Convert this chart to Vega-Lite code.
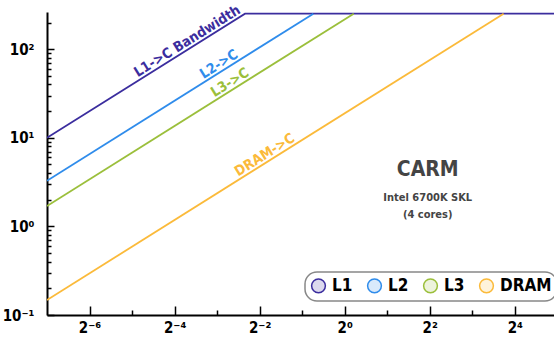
{
  "$schema": "https://vega.github.io/schema/vega-lite/v6.json",
  "autosize": {"type": "none"},
  "padding": {"left": 47, "top": 12, "right": 0, "bottom": 23},
  "width": 507,
  "height": 303,
  "datasets": {
    "lines": [
      {"s": "L1", "x": 0.0078125, "y": 10},
      {"s": "L1", "x": 0.197, "y": 252},
      {"s": "L1", "x": 30.3, "y": 252},
      {"s": "L2", "x": 0.0078125, "y": 3.28},
      {"s": "L2", "x": 0.6, "y": 252},
      {"s": "L3", "x": 0.0078125, "y": 1.70},
      {"s": "L3", "x": 1.158, "y": 252},
      {"s": "DRAM", "x": 0.0078125, "y": 0.1477},
      {"s": "DRAM", "x": 13.33, "y": 252}
    ],
    "labels": [
      {"s": "L1", "t": "L1->C Bandwidth", "x": 0.0819, "y": 104.8},
      {"s": "L2", "t": "L2->C", "x": 0.137, "y": 57.5},
      {"s": "L3", "t": "L3->C", "x": 0.164, "y": 35.7},
      {"s": "DRAM", "t": "DRAM->C", "x": 0.2888, "y": 5.46}
    ],
    "notes": [
      {"t": "CARM", "k": "title", "x": 3.87, "y": 4.32},
      {"t": "Intel 6700K SKL", "k": "sub", "x": 3.87, "y": 2.11},
      {"t": "(4 cores)", "k": "sub", "x": 3.87, "y": 1.36}
    ]
  },
  "layer": [
    {
      "data": {"name": "lines"},
      "mark": {"type": "line", "strokeWidth": 1.8, "clip": true},
      "encoding": {
        "x": {
          "field": "x", "type": "quantitative",
          "scale": {"type": "log", "base": 2, "domain": [0.0078125, 30.3], "nice": false},
          "axis": {
            "orient": "bottom",
            "title": null,
            "grid": false,
            "values": [0.015625, 0.03125, 0.0625, 0.125, 0.25, 0.5, 1, 2, 4, 8, 16],
            "labelExpr": "datum.value == 0.015625 ? '2⁻⁶' : datum.value == 0.0625 ? '2⁻⁴' : datum.value == 0.25 ? '2⁻²' : datum.value == 1 ? '2⁰' : datum.value == 4 ? '2²' : datum.value == 16 ? '2⁴' : ''",
            "tickSize": {"condition": {"test": "indexof([0.015625, 0.0625, 0.25, 1, 4, 16], datum.value) >= 0", "value": -9}, "value": -5},
            "labelPadding": 14,
            "labelFlush": false,
            "labelOverlap": false
          }
        },
        "y": {
          "field": "y", "type": "quantitative",
          "scale": {"type": "log", "base": 10, "domain": [0.1, 263], "nice": false},
          "axis": {
            "orient": "left",
            "title": null,
            "grid": false,
            "values": [0.1, 0.2, 0.3, 0.4, 0.5, 0.6, 0.7, 0.8, 0.9, 1, 2, 3, 4, 5, 6, 7, 8, 9, 10, 20, 30, 40, 50, 60, 70, 80, 90, 100, 200],
            "labelExpr": "datum.value == 0.1 ? '10⁻¹' : datum.value == 1 ? '10⁰' : datum.value == 10 ? '10¹' : datum.value == 100 ? '10²' : ''",
            "tickSize": {"condition": {"test": "indexof([0.1, 1, 10, 100], datum.value) >= 0", "value": -7}, "value": -4},
            "labelPadding": 20,
            "labelFlush": false,
            "labelOverlap": false
          }
        },
        "color": {
          "field": "s", "type": "nominal",
          "scale": {"domain": ["L1", "L2", "L3", "DRAM"], "range": ["#3B2D9E", "#2F8CEB", "#9BBF3B", "#FBBA3A"]},
          "legend": {
            "title": null,
            "orient": "none",
            "legendX": 258,
            "legendY": 260,
            "direction": "horizontal",
            "symbolType": "circle",
            "symbolSize": 190,
            "symbolStrokeWidth": 1.5,
            "labelFontSize": 17,
            "labelFontWeight": "bold",
            "labelColor": "black",
            "labelOffset": 5,
            "columnPadding": 11,
            "padding": 5,
            "cornerRadius": 12,
            "strokeColor": "#888888",
            "fillColor": "white",
            "encode": {
              "symbols": {"update": {"fill": {"scale": "color", "field": "value"}, "fillOpacity": {"value": 0.18}}},
              "legend": {"update": {"strokeWidth": {"value": 1.5}}}
            }
          }
        },
        "order": {"field": "x", "type": "quantitative"}
      }
    },
    {
      "data": {"name": "labels"},
      "mark": {"type": "text", "angle": -32, "baseline": "middle", "align": "center", "dy": -7, "fontSize": 14, "fontWeight": "bold"},
      "encoding": {
        "x": {"field": "x", "type": "quantitative"},
        "y": {"field": "y", "type": "quantitative"},
        "text": {"field": "t"},
        "color": {"field": "s", "type": "nominal", "legend": null}
      }
    },
    {
      "data": {"name": "notes"},
      "transform": [{"filter": "datum.k == 'title'"}],
      "mark": {"type": "text", "baseline": "middle", "align": "center", "fontSize": 21, "fontWeight": "bold", "color": "#444444"},
      "encoding": {
        "x": {"field": "x", "type": "quantitative"},
        "y": {"field": "y", "type": "quantitative"},
        "text": {"field": "t"}
      }
    },
    {
      "data": {"name": "notes"},
      "transform": [{"filter": "datum.k == 'sub'"}],
      "mark": {"type": "text", "baseline": "middle", "align": "center", "fontSize": 11, "fontWeight": "bold", "color": "#444444"},
      "encoding": {
        "x": {"field": "x", "type": "quantitative"},
        "y": {"field": "y", "type": "quantitative"},
        "text": {"field": "t"}
      }
    }
  ],
  "config": {
    "view": {"stroke": null},
    "font": "DejaVu Sans Condensed, Roboto, sans-serif",
    "axis": {
      "domainColor": "black",
      "domainWidth": 2,
      "tickColor": "black",
      "tickWidth": 1.5,
      "labelFont": "DejaVu Sans Condensed, Roboto, sans-serif",
      "labelFontSize": 15,
      "labelFontWeight": "bold",
      "labelColor": "black"
    },
    "legend": {"labelFont": "DejaVu Sans Condensed, Roboto, sans-serif"}
  }
}
